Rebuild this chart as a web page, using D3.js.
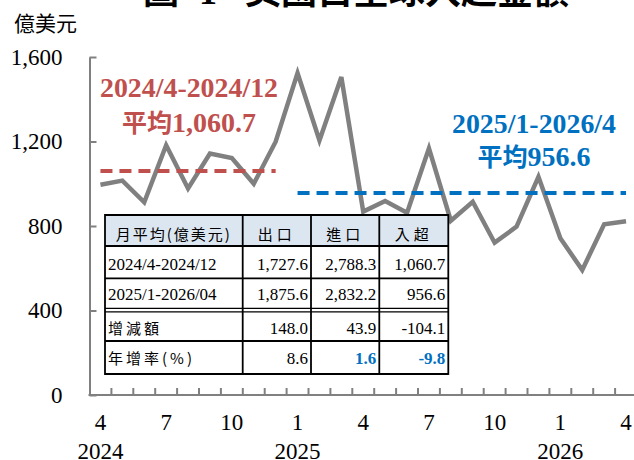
<!DOCTYPE html>
<html>
<head>
<meta charset="utf-8">
<script src="https://cdn.jsdelivr.net/npm/d3@7/dist/d3.min.js"></script>
<style>
  html, body { margin: 0; padding: 0; background: #fff; }
  svg { display: block; }
</style>
</head>
<body>
<svg id="chart" width="634" height="460"></svg>
<script>
// Monthly US trade deficit with the world (億美元), 2024/4 – 2026/4
const months = [
  "2024/4","2024/5","2024/6","2024/7","2024/8","2024/9","2024/10","2024/11","2024/12",
  "2025/1","2025/2","2025/3","2025/4","2025/5","2025/6","2025/7","2025/8","2025/9","2025/10","2025/11","2025/12",
  "2026/1","2026/2","2026/3","2026/4"
];
const deficit = [
  995, 1015, 912, 1182, 978, 1143, 1122, 1000, 1199,
  1524, 1205, 1505, 868, 918, 863, 1168, 825, 915, 721, 797, 1033,
  742, 592, 808, 822
];
const yTicks = [0, 400, 800, 1200, 1600];
const yearLabels = { "2024/4": "2024", "2025/1": "2025", "2026/1": "2026" };

// Period averages shown as dashed reference lines
const periodNames = ["2024/4-2024/12", "2025/1-2026/4"];
const periodStart = ["2024/4", "2025/1"];
const periodEnd = ["2024/12", "2026/4"];
const periodAvg = [1060.7, 956.6];
const periodColor = ["#C0504D", "#0070C0"];

// Summary table
const tableHeader = ["月平均(億美元)", "出口", "進口", "入超"];
const rowLabels = ["2024/4-2024/12", "2025/1-2026/04", "增減額", "年增率(%)"];
const exportsCol = ["1,727.6", "1,875.6", "148.0", "8.6"];
const importsCol = ["2,788.3", "2,832.2", "43.9", "1.6"];
const deficitCol = ["1,060.7", "956.6", "-104.1", "-9.8"];

const serif = "'Liberation Serif', 'Times New Roman', 'Noto Sans CJK TC', serif";
const cjk = "'Noto Sans CJK TC', 'Noto Sans CJK SC', sans-serif";
const axisColor = "#808080";

const svg = d3.select("#chart");

const x0 = 89.5, bandW = 21.9;
const x = d3.scaleBand().domain(months).range([x0, x0 + bandW * months.length]).padding(0);
const cx = m => x(m) + x.bandwidth() / 2;
const y = d3.scaleLinear().domain([0, 1600]).range([395, 57]);

// Title (sits mostly above the visible area)
const title = svg.append("text").attr("y", 3.5)
  .attr("font-family", serif).attr("font-weight", "bold").attr("font-size", 36).attr("fill", "#000");
title.append("tspan").attr("x", 143).attr("font-family", cjk).text("圖");
title.append("tspan").attr("x", 199).text("1");
title.append("tspan").attr("x", 245).attr("font-family", cjk).text("美國自全球入超金額");

// Unit label
svg.append("text").attr("x", 14).attr("y", 31)
  .attr("font-family", cjk).attr("font-size", 21).attr("fill", "#000").text("億美元");

// Y axis
const yAxis = svg.append("g").attr("transform", `translate(${x0},0)`)
  .call(d3.axisLeft(y).tickValues(yTicks).tickFormat(d3.format(",")).tickSize(-7).tickSizeOuter(0).tickPadding(27));
yAxis.select(".domain").attr("stroke", axisColor).attr("stroke-width", 2);
yAxis.selectAll(".tick line").attr("stroke", axisColor).attr("stroke-width", 2);
yAxis.selectAll(".tick text").attr("font-family", serif).attr("font-size", 23).attr("fill", "#000");

// X axis: baseline, inward ticks at month boundaries, labels every 3 months
const xAxis = svg.append("g");
const xEnd = x0 + bandW * months.length;
xAxis.append("line").attr("x1", x0 - 1).attr("x2", xEnd).attr("y1", y(0)).attr("y2", y(0))
  .attr("stroke", axisColor).attr("stroke-width", 2);
const boundaries = months.slice(1).map(m => x(m)).concat([xEnd]);
xAxis.selectAll("line.tk").data(boundaries).join("line").attr("class", "tk")
  .attr("x1", d => d).attr("x2", d => d).attr("y1", y(0)).attr("y2", y(0) - 7)
  .attr("stroke", axisColor).attr("stroke-width", 2);
xAxis.selectAll("text.mo").data(months.filter((m, i) => i % 3 === 0)).join("text").attr("class", "mo")
  .attr("x", d => cx(d)).attr("y", 430).attr("text-anchor", "middle")
  .attr("font-family", serif).attr("font-size", 23).attr("fill", "#000")
  .text(d => d.split("/")[1]);
xAxis.selectAll("text.yr").data(Object.keys(yearLabels)).join("text").attr("class", "yr")
  .attr("x", d => cx(d)).attr("y", 459).attr("text-anchor", "middle")
  .attr("font-family", serif).attr("font-size", 23).attr("fill", "#000")
  .text(d => yearLabels[d]);

// Deficit line
svg.append("path").datum(deficit)
  .attr("d", d3.line().x((d, i) => cx(months[i])).y(d => y(d)))
  .attr("fill", "none").attr("stroke", "#808080").attr("stroke-width", 4.5).attr("stroke-linejoin", "miter");

// Period average dashed lines
periodAvg.forEach((v, k) => {
  svg.append("line")
    .attr("x1", cx(periodStart[k])).attr("x2", cx(periodEnd[k]))
    .attr("y1", y(v)).attr("y2", y(v))
    .attr("stroke", periodColor[k]).attr("stroke-width", 4).attr("stroke-dasharray", "12,7");
});

// Period annotations
const fmtAvg = d3.format(",.1f");
const notes = [
  { cx: 189, y1: 97, y2: 132, w: 178 },
  { cx: 534, y1: 133, y2: 166, w: 164 }
];
notes.forEach((n, k) => {
  svg.append("text").attr("x", n.cx).attr("y", n.y1).attr("text-anchor", "middle")
    .attr("font-family", serif).attr("font-weight", "bold").attr("font-size", 28)
    .attr("fill", periodColor[k]).attr("textLength", n.w).attr("lengthAdjust", "spacingAndGlyphs")
    .text(periodNames[k]);
  const t = svg.append("text").attr("x", n.cx).attr("y", n.y2).attr("text-anchor", "middle")
    .attr("font-family", serif).attr("font-weight", "bold").attr("font-size", 28).attr("fill", periodColor[k]);
  t.append("tspan").attr("font-family", cjk).attr("font-size", 25).text("平均");
  t.append("tspan").text(fmtAvg(periodAvg[k]));
});

// Summary table
const tbl = svg.append("g");
const colX = [105, 242.7, 311, 379.3, 448.3];
const rowY = [215, 246, 278.3, 310, 341, 374];
const baseY = [239.5, 270, 299.5, 333.5, 363.5];

tbl.append("rect").attr("x", colX[0]).attr("y", rowY[0]).attr("width", colX[4] - colX[0]).attr("height", rowY[5] - rowY[0])
  .attr("fill", "#fff");
tbl.append("rect").attr("x", colX[0]).attr("y", rowY[0]).attr("width", colX[4] - colX[0]).attr("height", rowY[1] - rowY[0])
  .attr("fill", "#DCE6F1");

const bw = 1.8;
// horizontal rules
[rowY[0], rowY[1], rowY[2], rowY[4], rowY[5]].forEach(yy => {
  tbl.append("line").attr("x1", colX[0]).attr("x2", colX[4]).attr("y1", yy).attr("y2", yy)
    .attr("stroke", "#000").attr("stroke-width", bw);
});
// double rule between the period rows and the change rows
[308.3, 311.8].forEach(yy => {
  tbl.append("line").attr("x1", colX[0]).attr("x2", colX[4]).attr("y1", yy).attr("y2", yy)
    .attr("stroke", "#000").attr("stroke-width", 1.3);
});
// vertical rules
colX.forEach(xx => {
  tbl.append("line").attr("x1", xx).attr("x2", xx).attr("y1", rowY[0] - bw / 2).attr("y2", rowY[5] + bw / 2)
    .attr("stroke", "#000").attr("stroke-width", bw);
});

// header
tableHeader.forEach((h, j) => {
  tbl.append("text").attr("x", (colX[j] + colX[j + 1]) / 2).attr("y", baseY[0]).attr("text-anchor", "middle")
    .attr("font-family", cjk).attr("font-size", 15).attr("letter-spacing", j === 0 ? 2 : 4)
    .attr("fill", "#000").text(h);
});

// body rows
rowLabels.forEach((lab, i) => {
  const isCjk = i >= 2;
  tbl.append("text").attr("x", colX[0] + 3).attr("y", baseY[i + 1])
    .attr("font-family", isCjk ? cjk : serif).attr("font-size", isCjk ? 15 : 17)
    .attr("letter-spacing", isCjk ? 3 : 0).attr("fill", "#000").text(lab);
  [exportsCol, importsCol, deficitCol].forEach((col, j) => {
    const highlight = i === 3 && j >= 1;
    tbl.append("text").attr("x", colX[j + 2] - 3).attr("y", baseY[i + 1]).attr("text-anchor", "end")
      .attr("font-family", serif).attr("font-size", 17)
      .attr("font-weight", highlight ? "bold" : "normal")
      .attr("fill", highlight ? "#0070C0" : "#000").text(col[i]);
  });
});
</script>
</body>
</html>
